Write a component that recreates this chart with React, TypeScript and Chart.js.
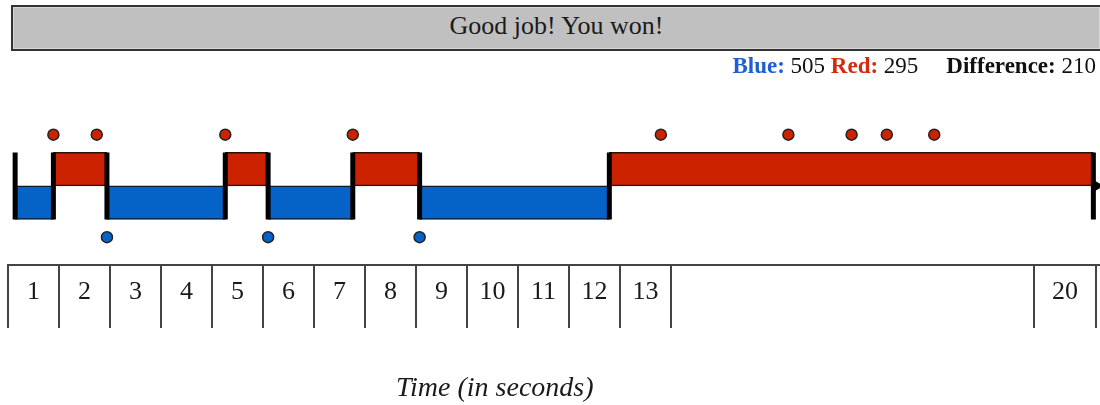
import React, { useEffect, useRef } from "react";
import { Chart, registerables } from "chart.js";

Chart.register(...registerables);

// ---- data (time in seconds) ----
const blueSegments: [number, number][] = [
  [0.14, 0.89],
  [1.94, 4.26],
  [5.1, 6.76],
  [8.07, 11.79],
];
const redSegments: [number, number][] = [
  [0.89, 1.94],
  [4.26, 5.1],
  [6.76, 8.07],
  [11.79, 21.28],
];
const switchTimes = [0.14, 0.89, 1.94, 4.26, 5.1, 6.76, 8.07, 11.79, 21.28];
const redClicks = [0.89, 1.74, 4.26, 6.76, 12.8, 15.3, 16.54, 17.23, 18.16];
const blueClicks = [1.94, 5.1, 8.07];
const endTime = 21.33;

const cellEdges = [0, 1, 2, 3, 4, 5, 6, 7, 8, 9, 10, 11, 12, 13, 20.12, 21.33];
const cellLabels = ["1", "2", "3", "4", "5", "6", "7", "8", "9", "10", "11", "12", "13", "", "20"];

const blueScore = 505;
const redScore = 295;
const difference = 210;

const RED = "#cc2200";
const BLUE = "#0563c8";
const SERIF = '"Liberation Serif", "Times New Roman", serif';

export default function App() {
  const ref = useRef<HTMLCanvasElement | null>(null);

  useEffect(() => {
    const canvas = ref.current;
    if (!canvas) return;
    const labelAt = new Map<number, string>();
    const centers: number[] = [];
    for (let i = 0; i < cellLabels.length; i++) {
      const c = (cellEdges[i] + cellEdges[i + 1]) / 2;
      centers.push(c);
      labelAt.set(c, cellLabels[i]);
    }
    const edgeSet = new Set(cellEdges);
    const tickValues = [...cellEdges, ...centers].sort((a, b) => a - b);

    const chart = new Chart(canvas, {
      type: "scatter",
      data: {
        datasets: [
          {
            type: "scatter",
            label: "Red clicks",
            data: redClicks.map((x) => ({ x, y: 1.53 })),
            backgroundColor: RED,
            borderColor: "#222",
            borderWidth: 1.5,
            pointRadius: 5.5,
            order: 0,
          },
          {
            type: "scatter",
            label: "Blue clicks",
            data: blueClicks.map((x) => ({ x, y: -1.53 })),
            backgroundColor: BLUE,
            borderColor: "#222",
            borderWidth: 1.5,
            pointRadius: 5.5,
            order: 0,
          },
          {
            type: "scatter",
            label: "End",
            data: [{ x: endTime, y: 0 }],
            pointStyle: "triangle",
            rotation: 90,
            pointRadius: 7,
            backgroundColor: "#000",
            borderColor: "#000",
            borderWidth: 1,
            order: 0,
          },
          {
            type: "line",
            label: "Switches",
            data: switchTimes.flatMap((t) => [
              { x: t, y: 1 },
              { x: t, y: -1 },
              { x: t, y: null },
            ]),
            borderColor: "#000",
            borderWidth: 5,
            pointRadius: 0,
            spanGaps: false,
            tension: 0,
            order: 1,
          },
          {
            type: "bar",
            label: "Red",
            indexAxis: "y",
            data: redSegments.map((s) => ({ x: s, y: 0.5 })),
            backgroundColor: RED,
            borderColor: "#2a1208",
            borderWidth: 1.5,
            borderSkipped: false,
            barThickness: 33.5,
            grouped: false,
            order: 2,
          },
          {
            type: "bar",
            label: "Blue",
            indexAxis: "y",
            data: blueSegments.map((s) => ({ x: s, y: -0.5 })),
            backgroundColor: BLUE,
            borderColor: "#0a1830",
            borderWidth: 1.5,
            borderSkipped: false,
            barThickness: 33.5,
            grouped: false,
            order: 2,
          },
        ] as any,
      },
      options: {
        animation: false,
        responsive: false,
        events: [],
        layout: { autoPadding: false, padding: { left: 8, right: 0, top: 0, bottom: 0 } },
        plugins: {
          legend: { display: false },
          tooltip: { enabled: false },
        },
        scales: {
          x: {
            type: "linear",
            position: "bottom",
            offset: false,
            min: 0,
            max: 21.41,
            afterBuildTicks: (s: any) => {
              s.ticks = tickValues.map((v) => ({ value: v }));
            },
            afterFit: (s: any) => {
              s.height = 140;
            },
            ticks: {
              autoSkip: false,
              maxRotation: 0,
              minRotation: 0,
              padding: -51,
              color: "#1a1a1a",
              font: { family: SERIF, size: 26 },
              callback: (v: any) => labelAt.get(v) ?? "",
            },
            grid: {
              display: true,
              offset: false,
              drawOnChartArea: false,
              drawTicks: true,
              tickLength: 63,
              lineWidth: 2,
              color: (c: any) =>
                c.tick && edgeSet.has(c.tick.value) ? "#444" : "rgba(0,0,0,0)",
            },
            border: { display: true, color: "#444", width: 2 },
          },
          y: {
            type: "linear",
            display: false,
            offset: false,
            grid: { offset: false },
            min: -2.36,
            max: 5.55,
          },
        },
      } as any,
    });
    return () => chart.destroy();
  }, []);

  return (
    <div
      style={{
        position: "absolute",
        left: 0,
        top: 0,
        width: 1100,
        height: 405,
        overflow: "hidden",
        background: "#fff",
        fontFamily: SERIF,
      }}
    >
      <canvas
        ref={ref}
        width={1100}
        height={405}
        style={{ position: "absolute", left: 0, top: 0, width: 1100, height: 405 }}
      />
      <div
        style={{
          position: "absolute",
          left: 11,
          top: 5,
          width: 1087,
          height: 42,
          border: "2px solid #333",
          boxShadow: "inset 0 0 0 1px #d6d6d6",
          background: "#c0c0c0",
          textAlign: "center",
          fontSize: 26,
          lineHeight: "38px",
          color: "#1a1a1a",
          whiteSpace: "nowrap",
        }}
      >
        Good job! You won!
      </div>
      <div
        style={{
          position: "absolute",
          left: 0,
          top: 54,
          width: 1096,
          textAlign: "right",
          fontSize: 23,
          lineHeight: "23px",
          color: "#111",
          whiteSpace: "nowrap",
        }}
      >
        <b style={{ color: "#1f5fd0" }}>Blue:</b> {blueScore}{" "}
        <b style={{ color: "#d42a10" }}>Red:</b> {redScore}
        <span style={{ display: "inline-block", width: 28 }} />
        <b>Difference:</b> {difference}
      </div>
      <div
        style={{
          position: "absolute",
          left: 396,
          top: 373,
          fontSize: 28,
          lineHeight: "28px",
          fontStyle: "italic",
          color: "#1a1a1a",
          whiteSpace: "nowrap",
        }}
      >
        Time (in seconds)
      </div>
    </div>
  );
}
